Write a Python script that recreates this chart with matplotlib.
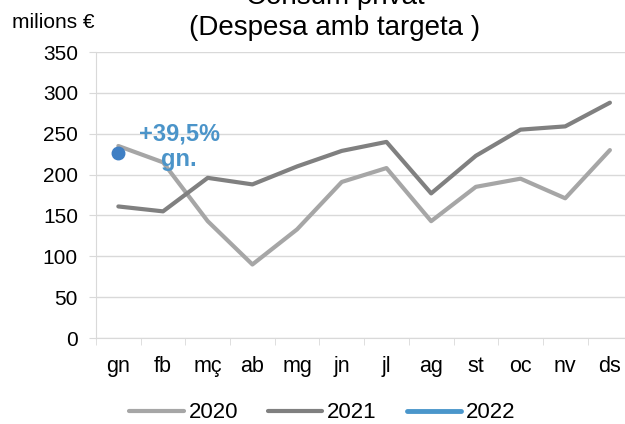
import numpy as np
import matplotlib.pyplot as plt
from matplotlib.ticker import FixedLocator

plt.rcParams['font.family'] = ['Liberation Sans', 'DejaVu Sans']

# Data
months = ['gn', 'fb', 'mç', 'ab', 'mg', 'jn', 'jl', 'ag', 'st', 'oc', 'nv', 'ds']
v2020 = [235, 215, 143, 90, 133, 191, 208, 143, 185, 195, 171, 230]
v2021 = [161, 155, 196, 188, 210, 229, 240, 177, 223, 255, 259, 288]
v2022 = [226]

x = np.arange(len(months))

fig = plt.figure(figsize=(6.25, 4.24), dpi=100)
ax = fig.add_axes([0.1536, 0.2028, 0.858, 0.6745])

grid_col = '#D9D9D9'
ax.plot(x, v2020, color='#A6A6A6', lw=3, solid_capstyle='round', label='2020', zorder=3)
ax.plot(x, v2021, color='#808080', lw=3, solid_capstyle='round', label='2021', zorder=3)
ax.plot(x[:len(v2022)], v2022, color='#4A96CB', lw=3.5, solid_capstyle='round',
        marker='o', markersize=9, markerfacecolor='#3F7FC4', markeredgecolor='#3F7FC4',
        label='2022', zorder=4)

ax.set_xlim(-0.5, 11.5)
ax.set_ylim(0, 350)
ax.set_yticks(range(0, 351, 50))
ax.yaxis.grid(True, color=grid_col, lw=1)
ax.set_axisbelow(True)

ax.set_xticks(x)
ax.set_xticklabels(months, fontsize=15.5)
ax.xaxis.set_minor_locator(FixedLocator(np.arange(-0.5, 12, 1)))
ax.tick_params(axis='x', which='major', length=0, pad=13)
ax.tick_params(axis='x', which='minor', length=5, color=grid_col)
ax.tick_params(axis='y', length=5, color=grid_col, labelsize=15, pad=8)

for s in ['top', 'right']:
    ax.spines[s].set_visible(False)
ax.spines['left'].set_color(grid_col)
ax.spines['bottom'].set_color(grid_col)

ax.text(1.36, 234, '+39,5%\ngn.', color='#4B94C9', fontsize=17, fontweight='bold',
        ha='center', va='center', linespacing=1.1, zorder=5)

fig.text(0.536, 0.9906, 'Consum privat', fontsize=20, ha='center', va='baseline')
fig.text(0.536, 0.9175, '(Despesa amb targeta )', fontsize=20, ha='center', va='baseline')
fig.text(0.019, 0.934, 'milions €', fontsize=15, ha='left', va='baseline')

fig.legend(loc='center', bbox_to_anchor=(0.516, 0.026), ncol=3, frameon=False,
           fontsize=16, handlelength=2.45, columnspacing=1.35, handletextpad=0.22)
# legend handles without markers
leg = fig.legends[0]
for h in leg.legend_handles:
    h.set_marker('')

fig.savefig('out.png', dpi=100)
